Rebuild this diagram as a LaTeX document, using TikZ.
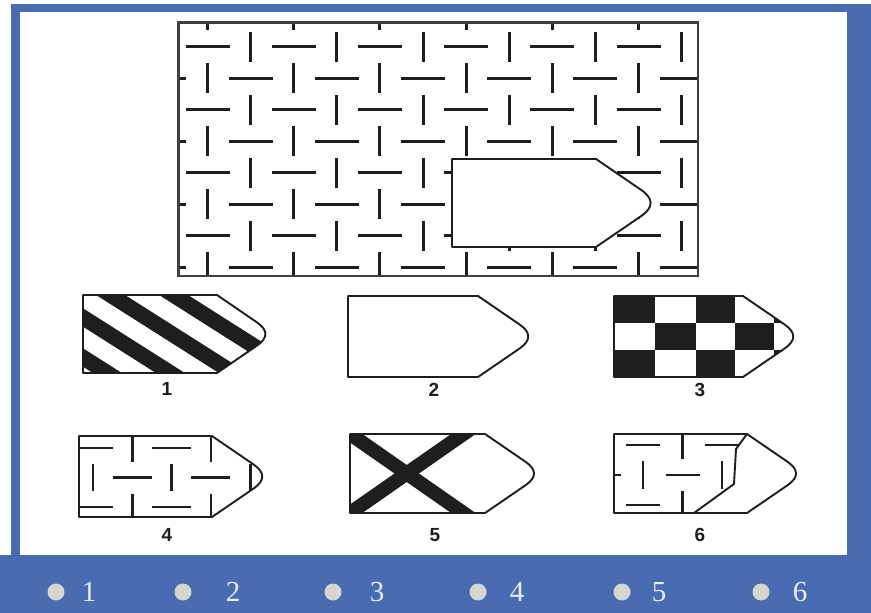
\documentclass[tikz,border=0pt]{standalone}
\usepackage{fontspec}
\setmainfont{Liberation Serif}
\newfontfamily\lblfont{Liberation Sans}
\definecolor{frameblue}{RGB}{72,107,178}
\definecolor{ink}{RGB}{30,30,30}
\definecolor{radio}{RGB}{216,213,206}
\definecolor{numwhite}{RGB}{232,236,246}
\tikzset{
  dsh/.style={line width=3pt, draw=ink},
  sdsh/.style={line width=2.6pt, draw=ink},
  outl/.style={line width=1.9pt, draw=ink, line join=round},
  lbl/.style={font=\lblfont\bfseries\fontsize{19}{19}\selectfont, text=ink, inner sep=0pt},
  radiobtn/.style={circle, fill=radio, minimum size=17pt, inner sep=0pt},
  optnum/.style={font=\fontsize{29}{29}\selectfont, text=numwhite, inner sep=0pt}
}
% flag shape: #2 left, #3 top, #4 bottom, #5 end of straight top
\newcommand\flagdraw[5][]{\draw[#1] (#2,#3) -- (#5,#3) -- ({#5+0.511*(#4-#3)},{#3+0.35*(#4-#3)}) .. controls ({#5+0.657*(#4-#3)},{#3+0.45*(#4-#3)}) and ({#5+0.657*(#4-#3)},{#3+0.55*(#4-#3)}) .. ({#5+0.511*(#4-#3)},{#3+0.65*(#4-#3)}) -- (#5,#4) -- (#2,#4) -- cycle;}
\newcommand\flagclip[4]{\clip (#1,#2) -- (#4,#2) -- ({#4+0.511*(#3-#2)},{#2+0.35*(#3-#2)}) .. controls ({#4+0.657*(#3-#2)},{#2+0.45*(#3-#2)}) and ({#4+0.657*(#3-#2)},{#2+0.55*(#3-#2)}) .. ({#4+0.511*(#3-#2)},{#2+0.65*(#3-#2)}) -- (#4,#3) -- (#1,#3) -- cycle;}
\begin{document}
\begin{tikzpicture}[x=1pt,y=-1pt]
\useasboundingbox (0,0) rectangle (871,613);
% frame
\fill[white] (0,0) rectangle (871,613);
\fill[frameblue] (11,4) rectangle (871,613);
\fill[frameblue] (0,555) rectangle (871,613);
\fill[white] (20,12) rectangle (847,555);
% main pattern
\begin{scope}
  \clip (178.5,22.5) rectangle (698,276);
  \foreach \i in {-1,...,12}{
    \foreach \j in {-1,...,8}{
      \pgfmathsetmacro\cx{207.5+43.1*\i}
      \pgfmathsetmacro\cy{46.5+31.5*\j}
      \pgfmathtruncatemacro\pty{mod(\i+\j+2,2)}
      \ifnum\pty=0
        \draw[dsh] (\cx-22,\cy) -- (\cx+22,\cy);
      \else
        \draw[dsh] (\cx,\cy-15) -- (\cx,\cy+15);
      \fi
    }
  }
\end{scope}
\draw[line width=2.2pt, draw=ink!85] (178.5,22.5) rectangle (698,276);
% cut-out
\flagdraw[outl, fill=white]{452}{159}{247}{596}
% option 1: stripes
\begin{scope}
  \flagclip{83}{295}{373}{217}
  \foreach \k in {-3,...,4}{
    \draw[line width=15.5pt, ink] (40,{277.5+40*\k+0.635*(40-83)}) -- (300,{277.5+40*\k+0.635*(300-83)});
  }
\end{scope}
\flagdraw[outl]{83}{295}{373}{217}
% option 2: blank
\flagdraw[outl]{348}{296}{377}{478}
% option 3: checker
\begin{scope}
  \flagclip{614}{296}{377}{743}
  \foreach \ya/\yb [count=\r] in {296/323,323/350,350/377}{
    \foreach \xa/\xb [count=\c] in {614/655,655/696,696/735,735/774,774/813}{
      \pgfmathtruncatemacro\pty{mod(\r+\c,2)}
      \ifnum\pty=0 \fill[ink] (\xa,\ya) rectangle (\xb,\yb); \fi
    }
  }
\end{scope}
\flagdraw[outl]{614}{296}{377}{743}
% option 4: pattern
\begin{scope}
  \flagclip{79}{436}{517}{212}
  \foreach \i in {-1,...,5}{
    \foreach \j in {-1,...,3}{
      \pgfmathsetmacro\cx{93+39.3*\i}
      \pgfmathsetmacro\cy{448+29.5*\j}
      \pgfmathtruncatemacro\pty{mod(\i+\j+2,2)}
      \ifnum\pty=0
        \draw[sdsh] (\cx-19.5,\cy) -- (\cx+19.5,\cy);
      \else
        \draw[sdsh] (\cx,\cy-13.5) -- (\cx,\cy+13.5);
      \fi
    }
  }
\end{scope}
\flagdraw[outl]{79}{436}{517}{212}
% option 5: cross
\begin{scope}
  \flagclip{350}{434}{513}{485}
  \draw[line width=14pt, ink] (330,420) -- (505,542);
  \draw[line width=14pt, ink] (330,527) -- (505,405);
\end{scope}
\flagdraw[outl]{350}{434}{513}{485}
% option 6: partial pattern
\begin{scope}
  \clip (614,434) -- (747,434) -- (736,449) -- (734,484) -- (694,513) -- (614,513) -- cycle;
  \foreach \i in {-1,...,3}{
    \foreach \j in {-1,...,3}{
      \pgfmathsetmacro\cx{643+39.5*\i}
      \pgfmathsetmacro\cy{445+30*\j}
      \pgfmathtruncatemacro\pty{mod(\i+\j+2,2)}
      \ifnum\pty=0
        \draw[sdsh] (\cx-17,\cy) -- (\cx+17,\cy);
      \else
        \draw[sdsh] (\cx,\cy-14) -- (\cx,\cy+14);
      \fi
    }
  }
\end{scope}
\draw[outl] (747,434) -- (736,449) -- (734,484) -- (694,513);
\flagdraw[outl]{614}{434}{513}{747}
% labels
\node[lbl] (l1) at (167,389) {1};
\node[lbl] (l2) at (434,390) {2};
\node[lbl] (l3) at (700,390) {3};
\node[lbl] (l4) at (167,535) {4};
\node[lbl] (l5) at (435,535) {5};
\node[lbl] (l6) at (700,535) {6};
% bottom radio options
\foreach \cxr/\nx/\t in {56/89/1,183/233/2,333/377/3,478/517/4,622/659/5,761/800/6}{
  \node[radiobtn] (r\t) at (\cxr,592) {};
  \node[optnum] (n\t) at (\nx,592) {\t};
}
\end{tikzpicture}
\end{document}
